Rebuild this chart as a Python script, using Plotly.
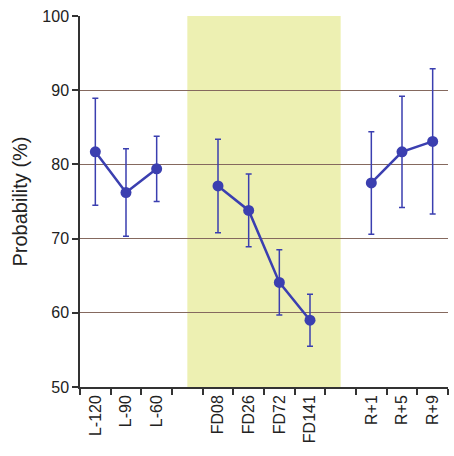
import plotly.graph_objects as go

categories = ["L-120", "L-90", "L-60", " ", "FD08", "FD26", "FD72", "FD141", "  ", "R+1", "R+5", "R+9"]

groups = [
    (["L-120", "L-90", "L-60"], [81.7, 76.2, 79.4], [7.2, 5.9, 4.4]),
    (["FD08", "FD26", "FD72", "FD141"], [77.1, 73.8, 64.1, 59.0], [6.3, 4.9, 4.4, 3.5]),
    (["R+1", "R+5", "R+9"], [77.5, 81.7, 83.1], [6.9, 7.5, 9.8]),
]

y_ticks = [50, 60, 70, 80, 90, 100]

blue = "#3b3fb0"
fig = go.Figure()
for xs, ys, es in groups:
    fig.add_trace(go.Scatter(
        x=xs, y=ys, mode="lines+markers",
        line=dict(color=blue, width=2.5),
        marker=dict(color=blue, size=11),
        error_y=dict(type="data", array=es, visible=True, color=blue, thickness=1.5, width=3),
        showlegend=False,
    ))

fig.add_shape(type="rect", xref="x", yref="y", x0=3, x1=8, y0=50, y1=100.3,
              fillcolor="#edf0b2", line=dict(width=0), layer="below")

fig.update_layout(
    width=454, height=456,
    margin=dict(l=80, r=6, t=16, b=69),
    paper_bgcolor="white", plot_bgcolor="white",
    font=dict(family="Liberation Sans, Arial, sans-serif", color="#222"),
    xaxis=dict(
        type="category", categoryorder="array", categoryarray=categories,
        range=[-0.5, 11.5], tickson="boundaries", ticks="outside", ticklen=6,
        tickcolor="#333", tickwidth=1.5, tickangle=-90,
        showline=True, linecolor="#333", linewidth=1.5,
        showgrid=False, tickfont=dict(size=16, color="#222"),
    ),
    yaxis=dict(
        range=[50, 100], tickvals=y_ticks, ticks="outside", ticklen=6,
        tickcolor="#333", tickwidth=1.5, showline=True, linecolor="#333", linewidth=1.5,
        showgrid=True, gridcolor="#85695e", gridwidth=1.3, zeroline=False,
        tickfont=dict(size=16, color="#222"),
        title=dict(text="Probability (%)", font=dict(size=20, color="#222"), standoff=9),
    ),
)

fig.write_html("out.html")
